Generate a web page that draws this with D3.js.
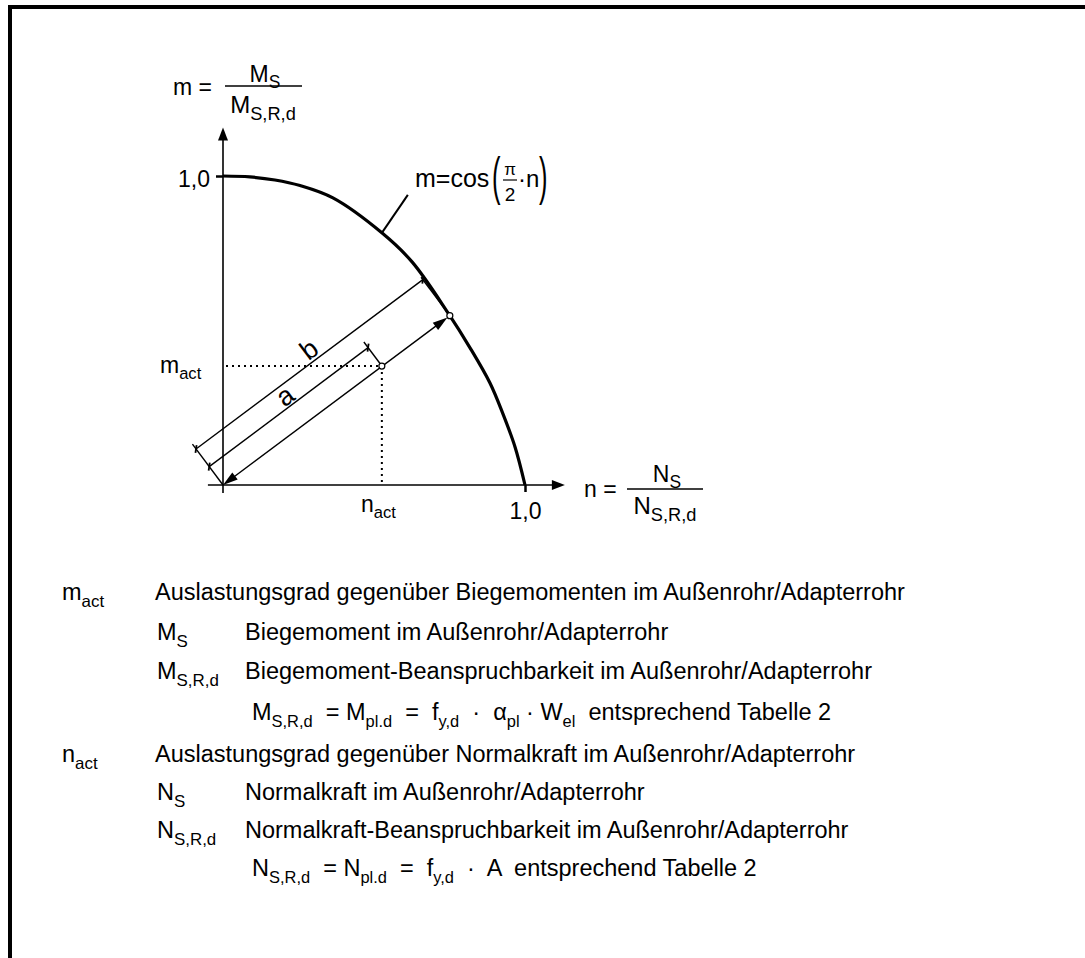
<!DOCTYPE html>
<html>
<head>
<meta charset="utf-8">
<script src="https://cdn.jsdelivr.net/npm/d3@7"></script>
<style>
  body { margin: 0; background: #fff; }
  svg { display: block; }
  text { font-family: "Liberation Sans", Arial, Helvetica, sans-serif; fill: #000; }
</style>
</head>
<body>
<svg id="chart" width="1085" height="958"></svg>
<script>
// Interaction boundary m(n)
const curveN = [0.000, 0.089, 0.172, 0.255, 0.364, 0.526, 0.626, 0.745, 0.818, 0.884, 0.927, 0.967, 1.000];
const curveM = [1.000, 0.997, 0.987, 0.969, 0.929, 0.816, 0.722, 0.557, 0.444, 0.330, 0.230, 0.123, 0.000];

// Actual utilisation point (n_act, m_act)
const nAct = 0.526;
const mAct = 0.385;

// Axis ticks
const xTickValues = [1.0];
const yTickValues = [1.0];
const tickLabels = ["1,0"];

// Legend rows: symbol, description, indent level
const legendSymbols = ["m_{act}", "M_{S}", "M_{S,R,d}", "", "n_{act}", "N_{S}", "N_{S,R,d}", ""];
const legendTexts = [
  "Auslastungsgrad gegenüber Biegemomenten im Außenrohr/Adapterrohr",
  "Biegemoment im Außenrohr/Adapterrohr",
  "Biegemoment-Beanspruchbarkeit im Außenrohr/Adapterrohr",
  "M_{S,R,d}  = M_{pl.d}  =  f_{y,d}  ·  α_{pl} · W_{el}  entsprechend Tabelle 2",
  "Auslastungsgrad gegenüber Normalkraft im Außenrohr/Adapterrohr",
  "Normalkraft im Außenrohr/Adapterrohr",
  "Normalkraft-Beanspruchbarkeit im Außenrohr/Adapterrohr",
  "N_{S,R,d}  = N_{pl.d}  =  f_{y,d}  ·  A  entsprechend Tabelle 2"
];
const legendLevels = [0, 1, 1, 2, 0, 1, 1, 2];

const svg = d3.select("#chart");
const FS = 23;

// text with _{...} subscripts
function rich(parent, x, y, str, size, anchor, subRatio) {
  const t = parent.append("text")
    .attr("x", x).attr("y", y)
    .attr("font-size", size)
    .attr("text-anchor", anchor || "start")
    .attr("xml:space", "preserve")
    .style("white-space", "pre");
  const parts = str.split(/_\{([^}]*)\}/);
  const sub = size * (subRatio || 0.68), shift = size * 0.28;
  let down = false;
  parts.forEach((p, i) => {
    if (p === "") return;
    const isSub = i % 2 === 1;
    const ts = t.append("tspan").text(p);
    if (isSub) {
      ts.attr("font-size", sub).attr("dy", down ? 0 : shift);
      down = true;
    } else {
      if (down) ts.attr("dy", -shift);
      down = false;
    }
  });
  return t;
}

// frame
svg.append("path")
  .attr("d", "M10,958V7H1085")
  .attr("fill", "none").attr("stroke", "#000").attr("stroke-width", 4);

const x = d3.scaleLinear().domain([0, 1]).range([223, 525]);
const y = d3.scaleLinear().domain([0, 1]).range([485, 176]);

const g = svg.append("g");

// ticks through d3 axes
const xAxis = g.append("g").attr("transform", `translate(0,${y(0)})`)
  .call(d3.axisBottom(x).tickValues(xTickValues).tickFormat((d, i) => tickLabels[i]).tickSize(7).tickPadding(11));
const yAxis = g.append("g").attr("transform", `translate(${x(0)},0)`)
  .call(d3.axisLeft(y).tickValues(yTickValues).tickFormat((d, i) => tickLabels[i]).tickSize(7).tickPadding(6));
[xAxis, yAxis].forEach(a => {
  a.select(".domain").remove();
  a.selectAll(".tick line").attr("stroke", "#000").attr("stroke-width", 2.5);
  a.selectAll(".tick text").attr("font-size", FS).attr("font-family", "Liberation Sans, Arial, sans-serif").attr("fill", "#000");
});
yAxis.selectAll(".tick text").attr("dy", "0.45em");

// axis arrows
const O = [x(0), y(0)];
function arrowHead(tip, dir, L, W) {
  const n = [-dir[1], dir[0]];
  const b = [tip[0] - dir[0] * L, tip[1] - dir[1] * L];
  return `M${tip[0]},${tip[1]}L${b[0] + n[0] * W},${b[1] + n[1] * W}L${b[0] - n[0] * W},${b[1] - n[1] * W}Z`;
}
const xEnd = x(1.132), yEnd = y(1.157);
g.append("line").attr("x1", x(-0.05)).attr("y1", O[1]).attr("x2", xEnd - 8).attr("y2", O[1])
  .attr("stroke", "#000").attr("stroke-width", 1.6);
g.append("path").attr("d", arrowHead([xEnd, O[1]], [1, 0], 13, 5)).attr("fill", "#000");
g.append("line").attr("x1", O[0]).attr("y1", y(-0.026)).attr("x2", O[0]).attr("y2", yEnd + 8)
  .attr("stroke", "#000").attr("stroke-width", 1.6);
g.append("path").attr("d", arrowHead([O[0], yEnd], [0, -1], 13, 5)).attr("fill", "#000");

// boundary curve
const pts = curveN.map((n, i) => [x(n), y(curveM[i])]);
const curvePath = g.append("path")
  .attr("d", d3.line().curve(d3.curveCatmullRom.alpha(0.5))(pts))
  .attr("fill", "none").attr("stroke", "#000").attr("stroke-width", 3.2);

// act point and ray to the boundary
const P = [x(nAct), y(mAct)];
const len0 = Math.hypot(P[0] - O[0], P[1] - O[1]);
const u = [(P[0] - O[0]) / len0, (P[1] - O[1]) / len0];
const pv = [u[1], -u[0]];
const node = curvePath.node();
const total = node.getTotalLength();
let Q = null, prev = null;
for (let s = 0; s <= total; s += 0.5) {
  const pt = node.getPointAtLength(s);
  const c = (pt.x - O[0]) * u[1] - (pt.y - O[1]) * u[0];
  if (prev !== null && Math.sign(c) !== Math.sign(prev.c)) { Q = [pt.x, pt.y]; break; }
  prev = { c };
}

// dotted projections
const dots = { stroke: "#000", "stroke-width": 2, "stroke-dasharray": "2,4" };
const hl = g.append("line").attr("x1", O[0] + 3).attr("y1", P[1]).attr("x2", P[0]).attr("y2", P[1]);
const vl = g.append("line").attr("x1", P[0]).attr("y1", P[1]).attr("x2", P[0]).attr("y2", O[1]);
[hl, vl].forEach(l => Object.entries(dots).forEach(([k, v]) => l.attr(k, v)));

const thin = 1.4;
function seg(a, b, w) {
  g.append("line").attr("x1", a[0]).attr("y1", a[1]).attr("x2", b[0]).attr("y2", b[1])
    .attr("stroke", "#000").attr("stroke-width", w || thin);
}
const add = (p, v, k) => [p[0] + v[0] * k, p[1] + v[1] * k];

// main double arrow origin <-> boundary
seg(add(O, u, 8), add(Q, u, -10));
g.append("path").attr("d", arrowHead(O, [-u[0], -u[1]], 15, 4.5)).attr("fill", "#000");
g.append("path").attr("d", arrowHead(add(Q, u, -3), u, 15, 4.5)).attr("fill", "#000");

// dimension lines a and b
const da = 23, db = 45;
const A1 = add(O, pv, da), A2 = add(P, pv, da);
const B1 = add(O, pv, db), B2 = add(Q, pv, db);
seg(A1, A2);
seg(B1, B2);
// extension lines
seg(O, add(O, pv, db + 6));
seg(P, add(P, pv, da + 7));
seg(Q, add(Q, pv, db + 3));
// ticks
const td = [(u[0] + pv[0]) / Math.SQRT2, (u[1] + pv[1]) / Math.SQRT2];
[A1, A2, B1, B2].forEach(p => seg(add(p, td, -4), add(p, td, 4), 1.8));

const ang = Math.atan2(u[1], u[0]) * 180 / Math.PI;
function dimLabel(p1, p2, txt, t, off) {
  const m = add([p1[0] + (p2[0] - p1[0]) * t, p1[1] + (p2[1] - p1[1]) * t], pv, off);
  g.append("text").attr("transform", `translate(${m[0]},${m[1]}) rotate(${ang})`)
    .attr("text-anchor", "middle").attr("font-size", 27).text(txt);
}
dimLabel(B1, B2, "b", 0.53, 3);
dimLabel(A1, A2, "a", 0.52, 2);

// point markers
[P, Q].forEach(p => g.append("circle").attr("cx", p[0]).attr("cy", p[1]).attr("r", 3)
  .attr("fill", "#fff").attr("stroke", "#000").attr("stroke-width", 1.2));

// leader to the formula
const Lp = [x(0.526), y(0.816)];
seg(Lp, [Lp[0] + 26, Lp[1] - 38], 2);

// formula m = cos(pi/2 * n)
rich(g, 415, 187, "m=cos", 25);
function paren(px, ch) {
  g.append("text").attr("transform", `translate(${px},194) scale(0.5,1)`)
    .attr("font-size", 51).text(ch);
}
paren(492, "(");
paren(539, ")");
g.append("text").attr("x", 510).attr("y", 175).attr("font-size", 17).attr("text-anchor", "middle").text("π");
seg([503, 180], [517, 180], 1.2);
g.append("text").attr("x", 510).attr("y", 201).attr("font-size", 19).attr("text-anchor", "middle").text("2");
g.append("text").attr("x", 518).attr("y", 187).attr("font-size", 24).text("·n");

// axis titles as fractions
rich(g, 173, 95, "m =", FS);
seg([225, 86], [302, 86], 1.3);
rich(g, 265, 82, "M_{S}", FS, "middle", 0.76);
rich(g, 263, 113, "M_{S,R,d}", 24, "middle", 0.76);

rich(g, 584, 497, "n =", FS);
seg([627, 489], [703, 489], 1.3);
rich(g, 667, 482, "N_{S}", FS, "middle", 0.76);
rich(g, 665, 514, "N_{S,R,d}", 24, "middle", 0.76);

// act labels at the axes
rich(g, 160, 373, "m_{act}", FS, "start", 0.72);
rich(g, 361, 512, "n_{act}", FS, "start", 0.72);

// legend
const rowY = [600, 640, 679, 720, 762, 800, 838, 876];
const symX = [62, 157, 252];
const txtX = [155, 245, 252];
legendTexts.forEach((t, i) => {
  const lv = legendLevels[i];
  if (legendSymbols[i]) rich(svg, symX[lv], rowY[i], legendSymbols[i], 23.5, "start", 0.72);
  rich(svg, txtX[lv], rowY[i], t, 23.5, "start", 0.7);
});
</script>
</body>
</html>
